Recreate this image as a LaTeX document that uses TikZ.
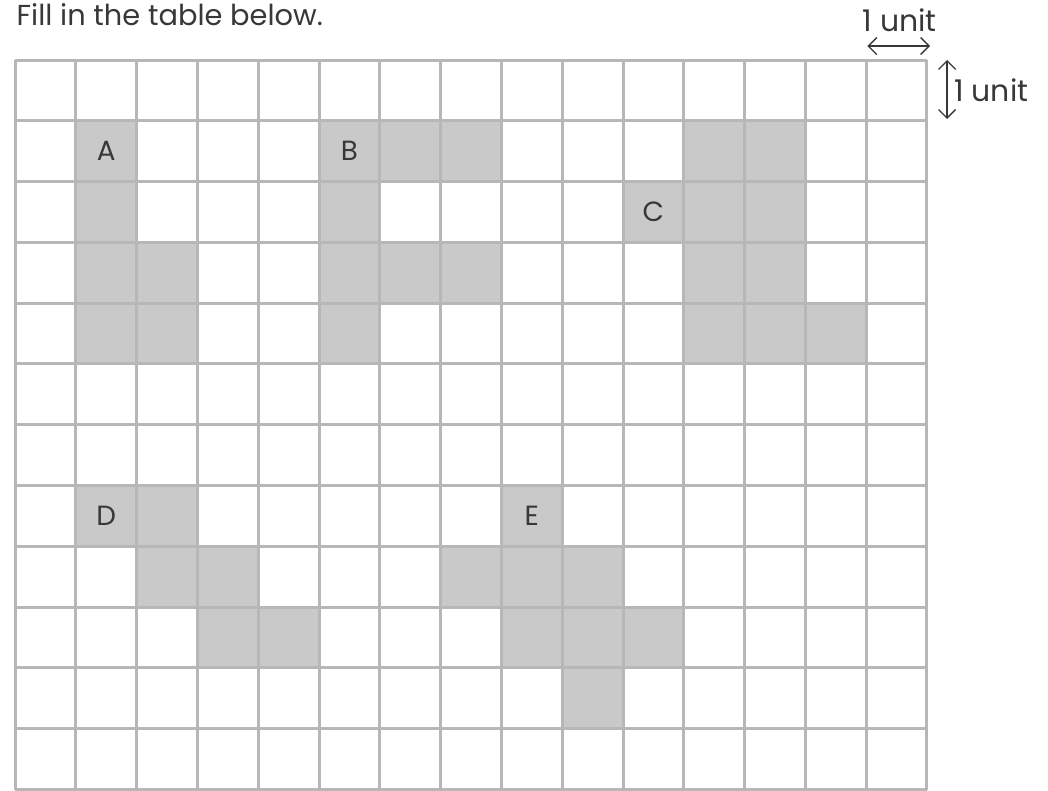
\documentclass[tikz,border=0pt]{standalone}
\usepackage{fontspec}
\setmainfont{Poppins}
\usepackage{tikz}
\usetikzlibrary{arrows.meta}
\usepackage{xcolor}
\definecolor{gridgray}{HTML}{B7B7B7}
\definecolor{cellgray}{HTML}{C8C9C8}
\definecolor{inkgray}{HTML}{383838}

\begin{document}
\begin{tikzpicture}[x=1cm, y=1cm]
    \useasboundingbox (-0.247, -0.007) rectangle (16.99, 12.987);

    % shaded cells, (column, row from top)
    \foreach \c/\r in {1/1,1/2,1/3,2/3,1/4,2/4,
                       5/1,6/1,7/1,5/2,5/3,6/3,7/3,5/4,
                       11/1,12/1,10/2,11/2,12/2,11/3,12/3,11/4,12/4,13/4,
                       1/7,2/7,2/8,3/8,3/9,4/9,
                       8/7,7/8,8/8,9/8,8/9,9/9,10/9,9/10}
        \fill[cellgray] (\c, 11-\r) rectangle ++(1, 1);

    \draw[gridgray, line width=1.4pt, step=1] (0, 0) grid (15, 12);

    \node[font=\fontsize{13}{15}\selectfont, text=inkgray] (lblA) at (1.5, 10.5) {A};
    \node[font=\fontsize{13}{15}\selectfont, text=inkgray] (lblB) at (5.5, 10.5) {B};
    \node[font=\fontsize{13}{15}\selectfont, text=inkgray] (lblC) at (10.5, 9.5) {C};
    \node[font=\fontsize{13}{15}\selectfont, text=inkgray] (lblD) at (1.5, 4.5) {D};
    \node[font=\fontsize{13}{15}\selectfont, text=inkgray] (lblE) at (8.5, 4.5) {E};

    \node[anchor=base west, inner sep=0pt, font=\fontsize{13.5}{16}\selectfont, text=inkgray] (title) at (0.02, 12.57) {Fill in the table below.};

    % unit markers
    \coordinate (hl) at (14.02, 12.23);
    \coordinate (hr) at (15.05, 12.23);
    \coordinate (vt) at (15.33, 12.0);
    \coordinate (vb) at (15.33, 11.03);
    \draw[{Straight Barb[length=4pt]}-{Straight Barb[length=4pt]}, inkgray, line width=0.6pt] (hl) -- (hr);
    \draw[{Straight Barb[length=4pt]}-{Straight Barb[length=4pt]}, inkgray, line width=0.6pt] (vt) -- (vb);
    \node[anchor=base, inner sep=0pt, font=\fontsize{14}{16}\selectfont, text=inkgray] (unitH) at (14.55, 12.47) {1 unit};
    \node[anchor=west, inner sep=0pt, font=\fontsize{14}{16}\selectfont, text=inkgray] (unitV) at (15.44, 11.5) {1 unit};
\end{tikzpicture}
\end{document}
